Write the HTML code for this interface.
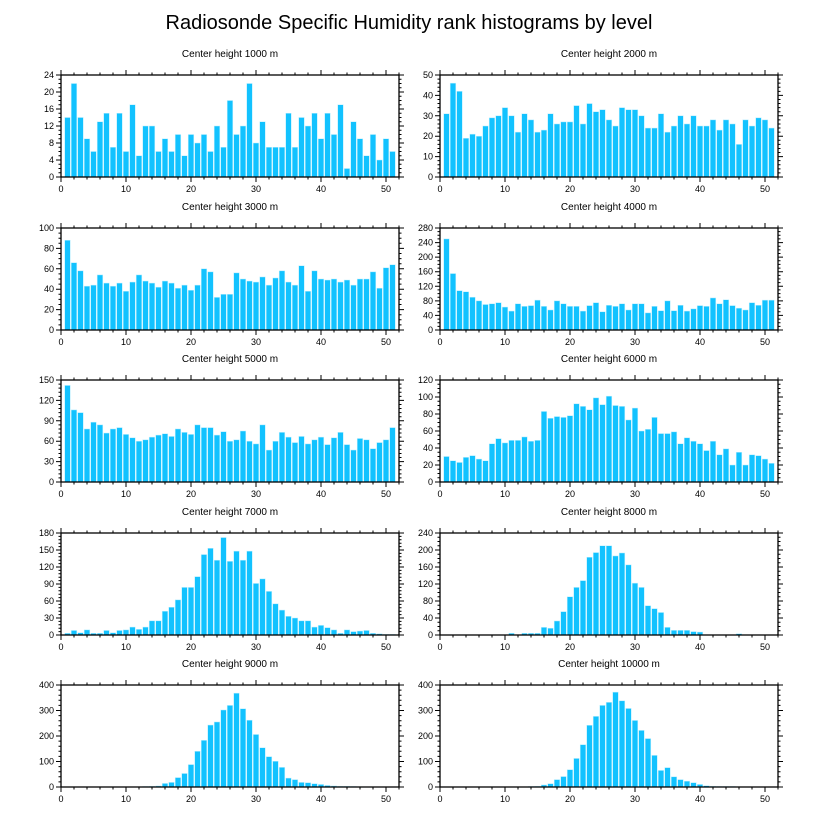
<!DOCTYPE html>
<html><head><meta charset="utf-8"><style>
html,body{margin:0;padding:0;background:#fff;}
svg{display:block;font-family:"Liberation Sans",Arial,sans-serif;}
</style></head><body>
<svg id="c" width="818" height="824" viewBox="0 0 818 824">
<text x="409" y="29" text-anchor="middle" font-size="20">Radiosonde Specific Humidity rank histograms by level</text>
</svg>
<script>
const titles = ["Center height 1000 m","Center height 2000 m","Center height 3000 m","Center height 4000 m","Center height 5000 m","Center height 6000 m","Center height 7000 m","Center height 8000 m","Center height 9000 m","Center height 10000 m"];
const yMax = [24,50,100,280,150,120,180,240,400,400];
const yStep = [4,10,20,40,30,20,30,40,100,100];
const yMinor = [1,2,5,10,6,5,6,10,20,20];
const xTicks = [0,10,20,30,40,50];
const v1000 = [14,22,14,9,6,13,15,7,15,6,17,5,12,12,6,9,6,10,5,10,8,10,6,12,7,18,10,12,22,8,13,7,7,7,15,7,14,12,15,9,15,10,17,2,13,9,5,10,4,9,6];
const v2000 = [31,46,42,19,21,20,25,29,30,34,30,22,31,28,22,23,31,26,27,27,35,26,36,32,33,28,25,34,33,33,30,24,24,31,22,25,30,26,30,25,25,28,23,28,26,16,28,25,29,28,24];
const v3000 = [88,66,58,43,44,54,46,43,46,38,47,54,48,46,42,48,46,41,44,39,44,60,57,32,35,35,56,50,48,47,52,44,51,58,47,44,63,38,58,50,49,50,47,49,44,50,50,57,41,61,64];
const v4000 = [250,155,108,105,90,80,70,72,75,63,52,72,65,67,82,65,55,80,72,65,65,52,67,75,50,68,65,72,55,72,72,47,65,53,80,53,68,52,58,67,65,88,72,83,67,60,55,75,68,82,82];
const v5000 = [142,106,102,78,88,84,72,78,80,70,65,60,62,66,69,71,67,78,73,70,84,80,80,69,74,60,62,75,60,56,84,47,60,73,66,58,67,56,62,66,55,65,73,55,47,64,62,49,58,62,80];
const v6000 = [30,25,23,29,31,27,25,45,51,46,49,49,53,48,49,83,75,77,76,78,92,89,85,99,91,101,90,89,73,87,60,62,76,57,57,59,45,52,48,45,37,48,32,39,20,35,20,32,31,27,22];
const v7000 = [3,8,4,9,3,3,8,4,8,9,14,10,14,25,25,42,49,62,84,84,103,142,153,132,172,130,148,132,148,91,99,77,55,44,33,30,25,25,14,17,13,9,3,9,6,7,8,3,2,1,1];
const v8000 = [0,0,0,0,0,0,0,0,0,0,4,0,4,4,4,18,16,33,55,90,112,128,183,194,210,210,186,193,165,122,112,69,62,53,18,11,11,11,8,7,0,0,0,0,0,3,0,0,0,0,0];
const v9000 = [0,0,0,0,0,0,0,0,0,0,0,0,2,3,4,14,18,37,53,88,140,183,243,255,302,320,368,307,262,206,154,119,101,77,35,29,18,17,13,10,6,4,3,3,2,1,0,0,0,0,0];
const v10000 = [0,0,0,0,0,0,0,0,0,0,0,0,0,2,3,8,13,29,41,68,112,166,242,277,320,332,372,338,308,261,222,190,124,65,76,40,29,23,17,10,5,3,2,2,2,1,0,0,0,0,0];
const series = [v1000,v2000,v3000,v4000,v5000,v6000,v7000,v8000,v9000,v10000];

const NS = "http://www.w3.org/2000/svg";
const svg = document.getElementById('c');
function mk(tag, attrs, parent){const e=document.createElementNS(NS,tag);for(const k in attrs)e.setAttribute(k,attrs[k]);parent.appendChild(e);return e;}
const tops=[75,228,380,533,685], W=338, H=102, lefts=[61,440];

for(let p=0;p<10;p++){
  const L=lefts[p%2], T=tops[Math.floor(p/2)], B=T+H, R=L+W;
  const xs=v=>L+v/52*W, ys=v=>B-v/yMax[p]*H;
  const g=mk('g',{},svg);
  
  
  const t=mk('text',{x:(L+R)/2,y:T-18,'text-anchor':'middle','font-size':10},g);
  t.textContent=titles[p];
  
  
  series[p].forEach((v,i)=>{
    if(v<=0) return;
    const r=mk('rect',{x:xs(i+1-0.43),y:ys(v),width:xs(0.86)-L,height:B-ys(v),fill:'#12C2FF',stroke:'#bdefff','stroke-width':0.5},g);
    
    
  });
  const fr=mk('rect',{x:L,y:T,width:W,height:H,fill:'none',stroke:'#000','stroke-width':1.3},g);
  
  
  let d='';
  for(let x=0;x<=52;x+=2){const maj=x%10===0,len=maj?5:2.5,X=xs(x);d+=`M${X} ${B}v${len}M${X} ${T}v${-len}`;}
  for(let y=0;y<=yMax[p]+1e-9;y+=yMinor[p]){const maj=Math.abs(y/yStep[p]-Math.round(y/yStep[p]))<1e-6,len=maj?5:2.5,Y=ys(y);d+=`M${L} ${Y}h${-len}M${R} ${Y}h${len}`;}
  const tk=mk('path',{d:d,stroke:'#000','stroke-width':1,fill:'none'},g);
  
  
  xTicks.forEach(x=>{
    const tx=mk('text',{x:xs(x),y:B+15,'text-anchor':'middle','font-size':9},g);
    tx.textContent=x;
    
    
  });
  for(let y=0;y<=yMax[p];y+=yStep[p]){
    const ty=mk('text',{x:L-7,y:ys(y)+3,'text-anchor':'end','font-size':9},g);
    ty.textContent=y;
    
    
  }
}
</script>
</body></html>
